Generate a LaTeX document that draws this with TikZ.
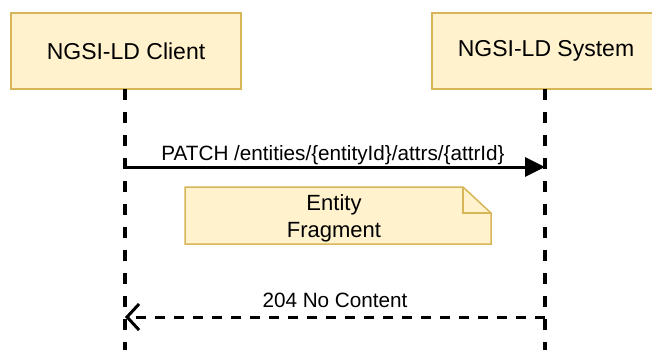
\documentclass[tikz,border=0pt]{standalone}
\usepackage{fontspec}
\setmainfont{Liberation Sans}
\usetikzlibrary{arrows.meta}
\definecolor{notefill}{HTML}{FFF2CC}
\definecolor{notedraw}{HTML}{D6B656}
\begin{document}
\begin{tikzpicture}[x=1pt,y=-1pt,
  actor/.style={draw=notedraw,fill=notefill,line width=1.5pt,minimum width=230pt,minimum height=76pt,inner sep=0pt,font=\fontsize{23}{27}\selectfont},
  lifeline/.style={line width=3.5pt,dash pattern=on 11pt off 12pt},
  msglabel/.style={anchor=base,inner sep=0pt,font=\fontsize{20.7}{24}\selectfont},
  callarrow/.style={line width=3pt,-{Triangle[length=20pt,width=19pt]}},
  replyarrow/.style={line width=3pt,dash pattern=on 10pt off 9pt,-{Straight Barb[length=12pt,width=26pt,line width=3pt]}}]
\useasboundingbox (0,0) rectangle (652,349);
\node[actor] (client) at (126,51) {NGSI-LD Client};
\node[actor,minimum width=228pt] (system) at (546,51) {NGSI-LD System};
\coordinate (cbot) at (125,352);
\coordinate (sbot) at (545,352);
\draw[lifeline] (125,89) -- (cbot);
\draw[lifeline] (545,89) -- (sbot);
\coordinate (c1) at (125,167);
\coordinate (s1) at (545,167);
\draw[callarrow] (c1) -- (s1);
\node[msglabel] (patch) at (333,160) {PATCH /entities/\{entityId\}/attrs/\{attrId\}};
% note
\draw[draw=notedraw,fill=notefill,line width=1.5pt,line join=miter]
  (185,187) -- (463,187) -- (491,213) -- (491,244) -- (185,244) -- cycle;
\draw[draw=notedraw,line width=1.5pt] (463,187) -- (463,213) -- (491,213);
\node[align=center,inner sep=0pt,font=\fontsize{22}{27}\selectfont] (note) at (334,218) {Entity\\Fragment};
\coordinate (c2) at (125,317);
\coordinate (s2) at (545,317);
\draw[replyarrow] (s2) -- (c2);
\node[msglabel] (reply) at (335,307) {204 No Content};
\end{tikzpicture}
\end{document}
